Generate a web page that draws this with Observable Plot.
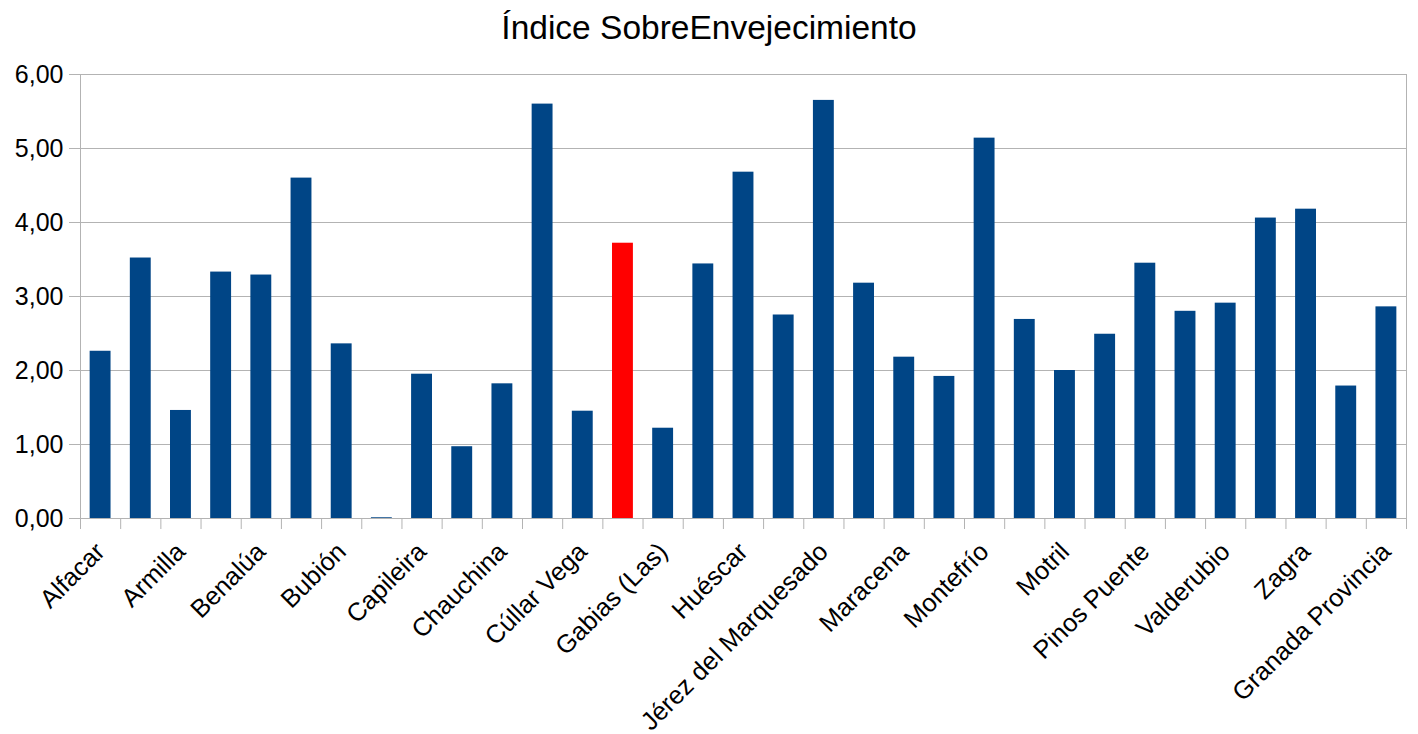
<!DOCTYPE html>
<html>
<head>
<meta charset="utf-8">
<script src="https://cdn.jsdelivr.net/npm/d3@7"></script>
<script src="https://cdn.jsdelivr.net/npm/@observablehq/plot@0.6"></script>
<style>
  html, body { margin: 0; padding: 0; background: #fff; }
  #title { width: 1418px; height: 56px; line-height: 56px; text-align: center;
           font-family: "Liberation Sans", Arial, sans-serif; font-size: 33.5px; color: #000; }
  #chart svg { display: block; }
</style>
</head>
<body>
<div id="title">Índice SobreEnvejecimiento</div>
<div id="chart"></div>
<script>
// Categories, one per bar (33). The reference labels only every other bar;
// the unlabelled bars' real names are NOT shown in the source image, so they are
// kept here as placeholders ("sin rótulo N"), not guessed municipality names.
const municipios = [
  "Alfacar", "sin rótulo 2", "Armilla", "sin rótulo 4", "Benalúa", "sin rótulo 6",
  "Bubión", "sin rótulo 8", "Capileira", "sin rótulo 10", "Chauchina", "sin rótulo 12",
  "Cúllar Vega", "sin rótulo 14", "Gabias (Las)", "sin rótulo 16", "Huéscar",
  "sin rótulo 18", "Jérez del Marquesado", "sin rótulo 20", "Maracena", "sin rótulo 22",
  "Montefrío", "sin rótulo 24", "Motril", "sin rótulo 26", "Pinos Puente",
  "sin rótulo 28", "Valderubio", "sin rótulo 30", "Zagra", "sin rótulo 32",
  "Granada Provincia"
];
// Values (estimates, ~±0.02)
const indice = [
  2.26, 3.52, 1.46, 3.33, 3.29, 4.60, 2.36, 0.01,
  1.95, 0.97, 1.82, 5.60, 1.45,
  3.72, 1.22, 3.44, 4.68, 2.75,
  5.65, 3.18, 2.18, 1.92, 5.14,
  2.69, 2.00, 2.49, 3.45, 2.80,
  2.91, 4.06, 4.18, 1.79, 2.86
];
// The red (highlighted) bar is the unlabelled 14th bar; its name is unknown.
const destacado = "sin rótulo 14";
const etiquetas = municipios.filter((d, i) => i % 2 === 0);
const yTicks = [0, 1, 2, 3, 4, 5, 6];

const data = municipios.map((m, i) => ({municipio: m, valor: indice[i]}));

const W = 1418, H = 678, mL = 80, mR = 12;
const step = (W - mL - mR) / municipios.length;
const grey = "#b3b3b3";
const fmt = d => d.toFixed(2).replace(".", ",");

const chart = Plot.plot({
  width: W,
  height: H,
  marginTop: 18,
  marginBottom: 216,
  marginLeft: mL,
  marginRight: mR,
  style: {fontFamily: "Liberation Sans, Arial, sans-serif", color: "#000", background: "#fff"},
  x: {domain: municipios, paddingInner: 0.48, paddingOuter: 0.24, round: false, axis: null, label: null},
  y: {domain: [0, 6], axis: null, label: null},
  color: {type: "identity"},
  marks: [
    Plot.gridY(yTicks, {stroke: grey, strokeOpacity: 1, strokeWidth: 1}),
    Plot.axisY({ticks: yTicks, tickSize: 11, tickPadding: 6, tickFormat: fmt, stroke: grey, fontSize: 25, fill: "#000", label: null}),
    Plot.axisX({ticks: municipios, tickSize: 11, tickFormat: () => "", stroke: grey, dx: -step / 2, label: null}),
    Plot.axisX({ticks: [municipios[municipios.length - 1]], tickSize: 11, tickFormat: () => "", stroke: grey, dx: step / 2, label: null}),
    Plot.frame({stroke: grey}),
    Plot.barY(data, {x: "municipio", y: "valor", fill: d => d.municipio === destacado ? "#ff0000" : "#004586"}),
    Plot.axisX({ticks: etiquetas, tickSize: 0, tickPadding: 29, tickRotate: -45, fontSize: 25.5, fill: "#000", label: null})
  ]
});
document.getElementById("chart").appendChild(chart);
</script>
</body>
</html>
